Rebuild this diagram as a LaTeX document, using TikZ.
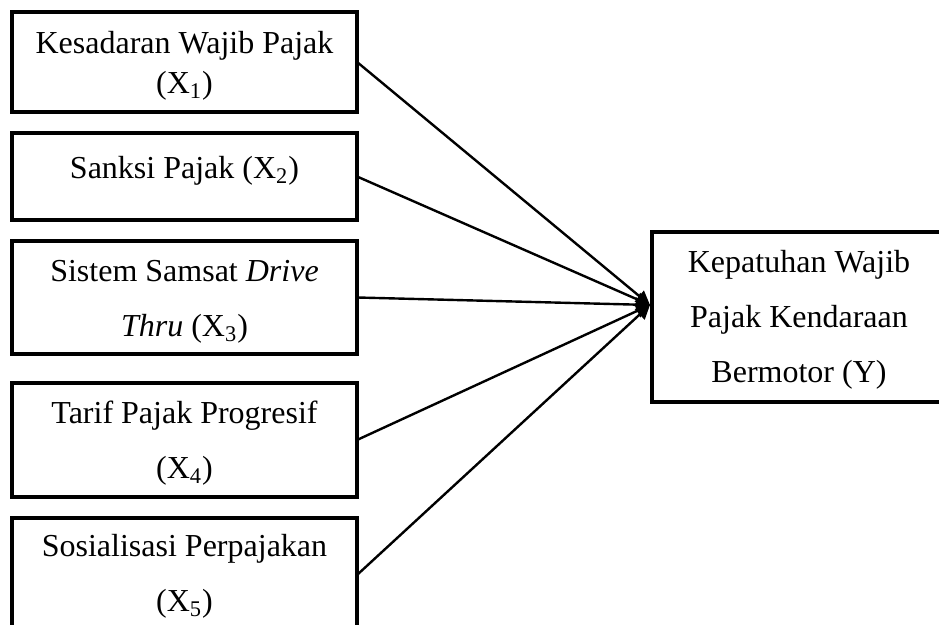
\documentclass[tikz,border=0pt]{standalone}
\usepackage{fontspec}
\setmainfont{Liberation Serif}
\usetikzlibrary{positioning,arrows.meta}
\newcommand{\topgap}[1]{\rule{0pt}{#1}}

\begin{document}
\begin{tikzpicture}[node distance=10.5pt,
    var/.style={draw, line width=2pt, outer sep=0pt, minimum width=172.5pt,
      align=center, font=\fontsize{16pt}{27.5pt}\selectfont},
    conn/.style={line width=1.2pt, -{Triangle[length=7pt,width=7pt]}}]
  \useasboundingbox (0,0) rectangle (469.5pt,312.5pt);

  \node[var, minimum height=50pt, font=\fontsize{16pt}{20pt}\selectfont] (x1) at (92.25pt,281.5pt)
    {\topgap{14.5pt}Kesadaran Wajib Pajak\\(X\textsubscript{1})};
  \node[var, minimum height=43.5pt, text depth=9.5pt] (x2) [below=of x1]
    {Sanksi Pajak (X\textsubscript{2})};
  \node[var, minimum height=56.5pt] (x3) [below=of x2]
    {\topgap{15pt}Sistem Samsat \textit{Drive}\\\textit{Thru} (X\textsubscript{3})};
  \node[var, minimum height=57pt] (x4) [below=14.5pt of x3]
    {\topgap{14.5pt}Tarif Pajak Progresif\\(X\textsubscript{4})};
  \node[var, minimum height=57pt] (x5) [below=of x4]
    {\topgap{12.5pt}Sosialisasi Perpajakan\\(X\textsubscript{5})};
  \node[var, minimum width=147pt, minimum height=85pt] (y) at (399.5pt,154pt)
    {\topgap{13.5pt}Kepatuhan Wajib\\Pajak Kendaraan\\Bermotor (Y)};

  \coordinate (tip) at ([xshift=-1pt,yshift=6pt]y.west);

  \path [conn]
  (x1.east) edge (tip)
  (x2.east) edge (tip)
  (x3.east) edge (tip)
  (x4.east) edge (tip)
  (x5.east) edge (tip);
\end{tikzpicture}
\end{document}
